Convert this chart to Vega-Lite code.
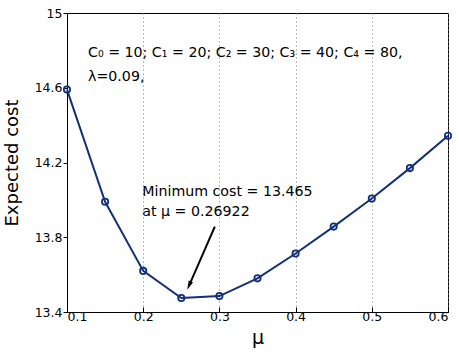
{
  "$schema": "https://vega.github.io/schema/vega-lite/v6.json",
  "width": 381,
  "height": 299,
  "autosize": {"type": "none"},
  "padding": {"left": 67, "top": 13, "right": 11, "bottom": 41},
  "background": "white",
  "config": {
    "view": {"stroke": "black", "strokeWidth": 1},
    "font": "DejaVu Sans",
    "axis": {
      "labelFont": "DejaVu Sans",
      "labelFontSize": 12.5,
      "labelColor": "black",
      "titleFont": "DejaVu Sans",
      "titleFontWeight": "normal",
      "titleColor": "black",
      "domainColor": "black",
      "tickColor": "black",
      "tickWidth": 1,
      "grid": false
    }
  },
  "datasets": {
    "curve": [
      {"mu": 0.10, "cost": 14.59},
      {"mu": 0.15, "cost": 13.99},
      {"mu": 0.20, "cost": 13.62},
      {"mu": 0.25, "cost": 13.475},
      {"mu": 0.30, "cost": 13.485},
      {"mu": 0.35, "cost": 13.58},
      {"mu": 0.40, "cost": 13.713},
      {"mu": 0.45, "cost": 13.857},
      {"mu": 0.50, "cost": 14.007},
      {"mu": 0.55, "cost": 14.17},
      {"mu": 0.60, "cost": 14.343}
    ],
    "labels": [
      {"x": 0.1276, "y": 14.764, "t": "C₀ = 10; C₁ = 20; C₂ = 30; C₃ = 40; C₄ = 80,"},
      {"x": 0.1276, "y": 14.638, "t": "λ=0.09,"},
      {"x": 0.1988, "y": 14.019, "t": "Minimum cost = 13.465"},
      {"x": 0.1988, "y": 13.912, "t": "at μ = 0.26922"}
    ],
    "arrow": [
      {"x": 0.294, "y": 13.857, "x2": 0.2606, "y2": 13.545}
    ]
  },
  "layer": [
    {
      "data": {"name": "curve"},
      "mark": {"type": "line", "color": "#12307a", "strokeWidth": 2},
      "encoding": {
        "x": {
          "field": "mu", "type": "quantitative",
          "scale": {"domain": [0.1, 0.6], "nice": false, "zero": false},
          "title": "μ",
          "axis": {
            "values": [0.1, 0.2, 0.3, 0.4, 0.5, 0.6],
            "format": ".1f",
            "labelOverlap": false,
            "tickSize": -5,
            "titleFontSize": 19,
            "titlePadding": 6,
            "labelPadding": 3,
            "grid": true,
            "gridColor": "#777777",
            "gridDash": [1, 3],
            "gridWidth": 1
          }
        },
        "y": {
          "field": "cost", "type": "quantitative",
          "scale": {"domain": [13.4, 15], "nice": false, "zero": false},
          "title": "Expected cost",
          "axis": {
            "values": [13.4, 13.6, 13.8, 14, 14.2, 14.4, 14.6, 14.8, 15],
            "format": "~g",
            "labelOverlap": false,
            "labelBound": false,
            "tickSize": 4,
            "titleFontSize": 18,
            "titlePadding": 13,
            "labelPadding": 1
          }
        }
      }
    },
    {
      "data": {"name": "curve"},
      "mark": {"type": "point", "shape": "circle", "filled": false, "color": "#12307a", "strokeWidth": 1.8, "size": 40, "opacity": 1},
      "encoding": {
        "x": {"field": "mu", "type": "quantitative", "title": "μ"},
        "y": {"field": "cost", "type": "quantitative", "title": "Expected cost"}
      }
    },
    {
      "data": {"name": "labels"},
      "mark": {"type": "text", "align": "left", "baseline": "alphabetic", "fontSize": 14.2, "font": "DejaVu Sans", "color": "black"},
      "encoding": {
        "x": {"field": "x", "type": "quantitative", "title": "μ"},
        "y": {"field": "y", "type": "quantitative", "title": "Expected cost"},
        "text": {"field": "t"}
      }
    },
    {
      "data": {"name": "arrow"},
      "mark": {"type": "rule", "color": "black", "strokeWidth": 2},
      "encoding": {
        "x": {"field": "x", "type": "quantitative", "title": "μ"},
        "y": {"field": "y", "type": "quantitative", "title": "Expected cost"},
        "x2": {"field": "x2"},
        "y2": {"field": "y2"}
      }
    },
    {
      "data": {"name": "arrow"},
      "mark": {"type": "point", "shape": "M0,-1L0.45,0.7L-0.45,0.7Z", "filled": true, "color": "black", "opacity": 1, "size": 110, "angle": 204},
      "encoding": {
        "x": {"field": "x2", "type": "quantitative", "title": "μ"},
        "y": {"field": "y2", "type": "quantitative", "title": "Expected cost"}
      }
    }
  ]
}
